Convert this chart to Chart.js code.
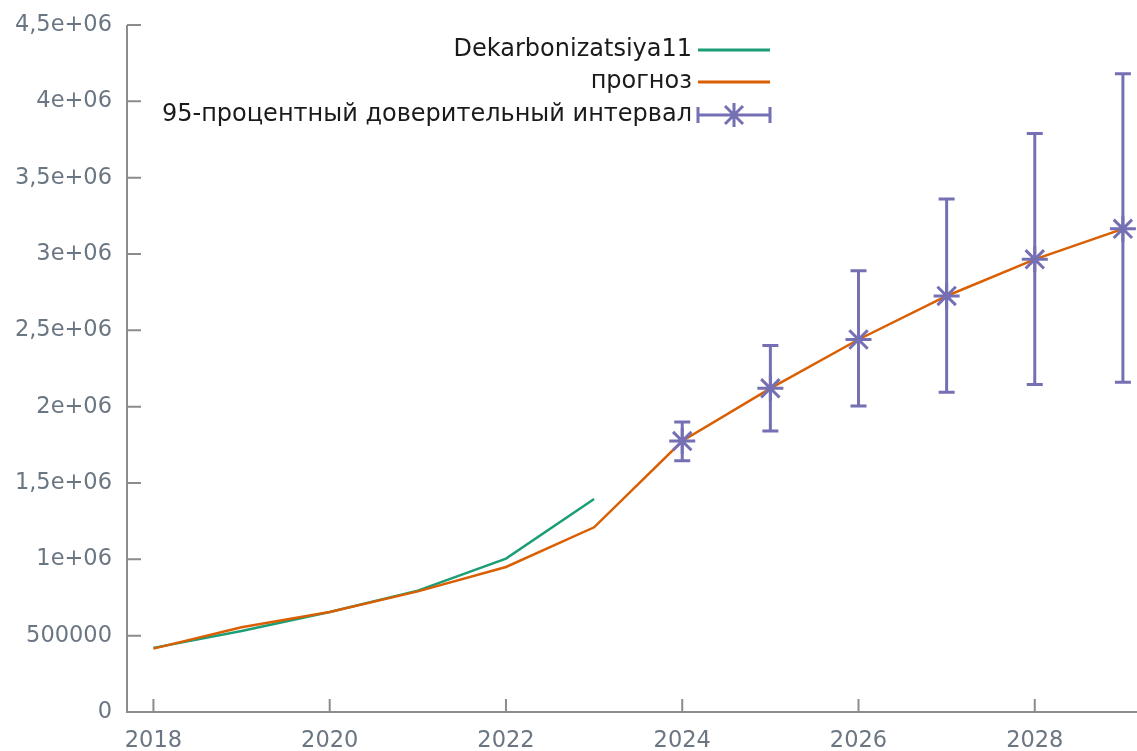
<!DOCTYPE html>
<html>
<head>
<meta charset="utf-8">
<script src="https://cdn.jsdelivr.net/npm/chart.js@4/dist/chart.umd.min.js"></script>
<style>
  html, body { margin: 0; padding: 0; background: #fff; }
  #wrap { width: 1137px; height: 751px; position: relative; }
</style>
</head>
<body>
<div id="wrap"><canvas id="chart"></canvas></div>
<script>
// Observed series
const years = [2018, 2019, 2020, 2021, 2022, 2023];
const actual = [420000, 530000, 655000, 795000, 1005000, 1395000];

// Forecast
const forecastYears = [2018, 2019, 2020, 2021, 2022, 2023, 2024, 2025, 2026, 2027, 2028, 2029];
const forecast = [415000, 555000, 655000, 790000, 950000, 1210000, 1775000, 2120000, 2440000, 2725000, 2965000, 3165000];

// 95% confidence interval
const ciYears = [2024, 2025, 2026, 2027, 2028, 2029];
const ciLow = [1645000, 1840000, 2005000, 2095000, 2145000, 2160000];
const ciHigh = [1900000, 2400000, 2890000, 3360000, 3790000, 4180000];

// Axis ticks
const xTicks = [2018, 2020, 2022, 2024, 2026, 2028];
const yTicks = [0, 500000, 1000000, 1500000, 2000000, 2500000, 3000000, 3500000, 4000000, 4500000];
const yTickLabels = ['0', '500000', '1e+06', '1,5e+06', '2e+06', '2,5e+06', '3e+06', '3,5e+06', '4e+06', '4,5e+06'];

const legendLabels = ['Dekarbonizatsiya11', 'прогноз', '95-процентный доверительный интервал'];

const GREEN = '#1b9e77';
const ORANGE = '#d95f02';
const PURPLE = '#7570b3';
const AXIS = '#8c8c8c';
const TICKTEXT = '#6b7683';
const FONT = '"DejaVu Sans", Verdana, sans-serif';

const centreOf = y => forecast[forecastYears.indexOf(y)];

// error bars drawn through the chart scales
const errorBars = {
  id: 'errorBars',
  afterDatasetsDraw(chart) {
    const { ctx, scales: { x, y } } = chart;
    ctx.save();
    ctx.strokeStyle = PURPLE;
    ctx.lineWidth = 3;
    ciYears.forEach((yr, i) => {
      const px = x.getPixelForValue(yr);
      const top = y.getPixelForValue(ciHigh[i]);
      const bot = y.getPixelForValue(ciLow[i]);
      ctx.beginPath();
      ctx.moveTo(px, top); ctx.lineTo(px, bot);
      ctx.moveTo(px - 8, top); ctx.lineTo(px + 8, top);
      ctx.moveTo(px - 8, bot); ctx.lineTo(px + 8, bot);
      ctx.stroke();
    });
    ctx.restore();
  }
};

// gnuplot-style legend: text right aligned, sample to its right
const keyBox = {
  id: 'keyBox',
  afterDraw(chart) {
    const ctx = chart.ctx;
    const textRight = 692, x0 = 698, x1 = 770;
    const rows = [50, 82, 115];
    ctx.save();
    ctx.font = '24px ' + FONT;
    ctx.textAlign = 'right';
    ctx.textBaseline = 'middle';
    ctx.fillStyle = '#1a1a1a';
    legendLabels.forEach((t, i) => ctx.fillText(t, textRight, rows[i]));
    ctx.lineWidth = 3;
    ctx.strokeStyle = GREEN;
    ctx.beginPath(); ctx.moveTo(x0, rows[0]); ctx.lineTo(x1, rows[0]); ctx.stroke();
    ctx.strokeStyle = ORANGE;
    ctx.beginPath(); ctx.moveTo(x0, rows[1]); ctx.lineTo(x1, rows[1]); ctx.stroke();
    const r = rows[2], mid = (x0 + x1) / 2;
    ctx.strokeStyle = PURPLE;
    ctx.beginPath();
    ctx.moveTo(x0, r); ctx.lineTo(x1, r);
    ctx.moveTo(x0, r - 8); ctx.lineTo(x0, r + 8);
    ctx.moveTo(x1, r - 8); ctx.lineTo(x1, r + 8);
    ctx.moveTo(mid - 12, r); ctx.lineTo(mid + 12, r);
    ctx.moveTo(mid, r - 12); ctx.lineTo(mid, r + 12);
    ctx.moveTo(mid - 9, r - 9); ctx.lineTo(mid + 9, r + 9);
    ctx.moveTo(mid - 9, r + 9); ctx.lineTo(mid + 9, r - 9);
    ctx.stroke();
    ctx.restore();
  }
};

// axis lines and inward ticks like gnuplot
const axesDraw = {
  id: 'axesDraw',
  beforeDatasetsDraw(chart) {
    const { ctx, chartArea: a, scales: { x, y } } = chart;
    ctx.save();
    ctx.strokeStyle = AXIS;
    ctx.lineWidth = 2;
    ctx.beginPath();
    ctx.moveTo(a.left, a.top); ctx.lineTo(a.left, a.bottom); ctx.lineTo(a.right, a.bottom);
    yTicks.forEach(v => {
      const py = y.getPixelForValue(v);
      ctx.moveTo(a.left, py); ctx.lineTo(a.left + 14, py);
    });
    xTicks.forEach(v => {
      const px = x.getPixelForValue(v);
      ctx.moveTo(px, a.bottom); ctx.lineTo(px, a.bottom - 13);
    });
    ctx.stroke();
    ctx.restore();
  }
};

new Chart(document.getElementById('chart'), {
  type: 'line',
  data: {
    datasets: [
      {
        label: legendLabels[0],
        data: years.map((yr, i) => ({ x: yr, y: actual[i] })),
        borderColor: GREEN,
        borderWidth: 2.5,
        pointRadius: 0,
        tension: 0,
        order: 2
      },
      {
        label: legendLabels[1],
        data: forecastYears.map((yr, i) => ({ x: yr, y: forecast[i] })),
        borderColor: ORANGE,
        borderWidth: 2.5,
        pointRadius: 0,
        tension: 0,
        order: 1
      },
      {
        label: legendLabels[2],
        data: ciYears.map(yr => ({ x: yr, y: centreOf(yr) })),
        showLine: false,
        pointStyle: 'star',
        pointRadius: 13,
        borderColor: PURPLE,
        backgroundColor: PURPLE,
        pointBorderWidth: 3,
        clip: false,
        order: 0
      }
    ]
  },
  options: {
    responsive: true,
    maintainAspectRatio: false,
    animation: false,
    layout: { autoPadding: false, padding: { top: 25, right: 0, bottom: 0, left: 0 } },
    plugins: {
      legend: { display: false },
      tooltip: { enabled: false }
    },
    scales: {
      x: {
        type: 'linear',
        min: 2017.7,
        max: 2029.16,
        afterFit: s => { s.height = 39; s.paddingLeft = 0; s.paddingRight = 0; },
        afterBuildTicks: s => { s.ticks = xTicks.map(v => ({ value: v })); },
        grid: { display: false, drawTicks: false },
        border: { display: false },
        ticks: {
          color: TICKTEXT,
          font: { family: FONT, size: 22.5 },
          padding: 16,
          maxRotation: 0,
          callback: v => String(v)
        }
      },
      y: {
        type: 'linear',
        min: 0,
        max: 4500000,
        afterFit: s => { s.width = 127; s.paddingTop = 0; s.paddingBottom = 0; },
        afterBuildTicks: s => { s.ticks = yTicks.map(v => ({ value: v })); },
        grid: { display: false, drawTicks: false },
        border: { display: false },
        ticks: {
          color: TICKTEXT,
          font: { family: FONT, size: 22.5 },
          padding: 15,
          callback: v => yTickLabels[yTicks.indexOf(v)]
        }
      }
    }
  },
  plugins: [axesDraw, errorBars, keyBox]
});
</script>
</body>
</html>
